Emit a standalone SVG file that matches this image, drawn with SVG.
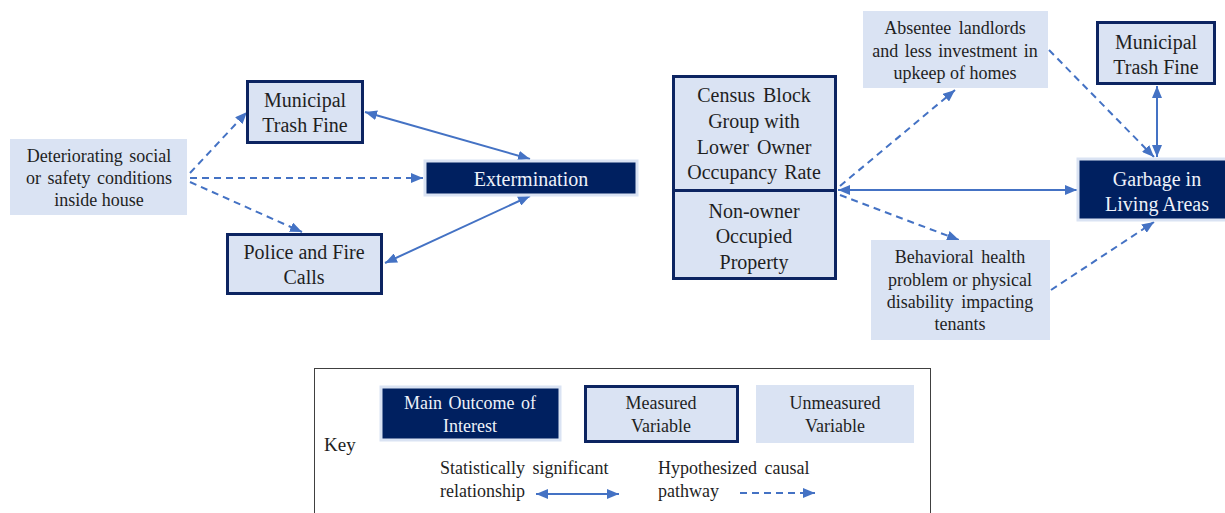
<svg xmlns="http://www.w3.org/2000/svg" width="1225" height="513" viewBox="0 0 1225 513">
<style>
.lt{fill:#dae3f3;stroke:none}
.ms{fill:#dae3f3;stroke:#0c2461;stroke-width:3}
.mo{fill:#002060;stroke:#dae3f3;stroke-width:3}
text{font-family:"Liberation Serif","Times New Roman",serif;text-anchor:middle;fill:#1f1f1f}
.s{font-size:18px}
.b{font-size:20px}
.w{fill:#eef2fa}
.l{text-anchor:start}
.sol{stroke:#4472c4;stroke-width:2;fill:none;marker-end:url(#ah);marker-start:url(#ahs)}
.das{stroke:#4472c4;stroke-width:2;fill:none;stroke-dasharray:7,5;marker-end:url(#ah)}
</style>
<defs>
<marker id="ah" viewBox="0 0 12 10" refX="12" refY="5" markerWidth="12" markerHeight="10" markerUnits="userSpaceOnUse" orient="auto"><path d="M0,0 L12,5 L0,10 z" fill="#4472c4"/></marker>
<marker id="ahs" viewBox="0 0 12 10" refX="0" refY="5" markerWidth="12" markerHeight="10" markerUnits="userSpaceOnUse" orient="auto"><path d="M12,0 L0,5 L12,10 z" fill="#4472c4"/></marker>
</defs>
<rect width="1225" height="513" fill="#ffffff"/>

<g id="connectors">
<line class="das" x1="190" y1="173" x2="247" y2="112"/>
<line class="das" x1="190" y1="178" x2="423" y2="178"/>
<line class="das" x1="190" y1="182" x2="302" y2="232"/>
<line class="sol" x1="365" y1="112" x2="530" y2="159"/>
<line class="sol" x1="385" y1="263" x2="530" y2="196"/>
<line class="sol" x1="838" y1="190" x2="1077" y2="190"/>
<line class="das" x1="840" y1="186" x2="955" y2="90"/>
<line class="das" x1="1049" y1="50" x2="1154" y2="157"/>
<line class="sol" x1="1157" y1="86" x2="1157" y2="157"/>
<line class="das" x1="840" y1="195" x2="959" y2="240"/>
<line class="das" x1="1051" y1="290" x2="1154" y2="222"/>
</g>

<g id="n-deteriorating">
<rect class="lt" x="10" y="139" width="177" height="76"/>
<text class="s" x="99" y="162" word-spacing="2">Deteriorating social</text>
<text class="s" x="99" y="184" word-spacing="2">or safety conditions</text>
<text class="s" x="99" y="206">inside house</text>
</g>

<g id="n-fine-left">
<rect class="ms" x="247.5" y="81.5" width="115" height="61"/>
<text class="b" x="305" y="107">Municipal</text>
<text class="b" x="305" y="132">Trash Fine</text>
</g>

<g id="n-police">
<rect class="ms" x="227.5" y="234.5" width="154" height="59"/>
<text class="b" x="304" y="259">Police and Fire</text>
<text class="b" x="304" y="284">Calls</text>
</g>

<g id="n-extermination">
<rect class="mo" x="425" y="161" width="212" height="34"/>
<text class="b w" x="531" y="186">Extermination</text>
</g>

<g id="n-census">
<rect class="ms" x="673.5" y="76.5" width="162" height="114"/>
<text class="b" x="754" y="102" word-spacing="3">Census Block</text>
<text class="b" x="754" y="128">Group with</text>
<text class="b" x="754" y="154" word-spacing="3">Lower Owner</text>
<text class="b" x="754" y="179" word-spacing="2">Occupancy Rate</text>
</g>

<g id="n-nonowner">
<rect class="ms" x="673.5" y="190.5" width="162" height="88"/>
<text class="b" x="754" y="218">Non-owner</text>
<text class="b" x="754" y="243">Occupied</text>
<text class="b" x="754" y="269">Property</text>
</g>

<g id="n-absentee">
<rect class="lt" x="863" y="11" width="185" height="77"/>
<text class="s" x="955" y="34" word-spacing="3">Absentee landlords</text>
<text class="s" x="955" y="57" word-spacing="2">and less investment in</text>
<text class="s" x="955" y="79">upkeep of homes</text>
</g>

<g id="n-fine-right">
<rect class="ms" x="1097.5" y="22.5" width="117" height="61"/>
<text class="b" x="1156" y="49">Municipal</text>
<text class="b" x="1156" y="74">Trash Fine</text>
</g>

<g id="n-garbage">
<rect class="mo" x="1078" y="159" width="150" height="61"/>
<text class="b w" x="1157" y="186">Garbage in</text>
<text class="b w" x="1157" y="211">Living Areas</text>
</g>

<g id="n-behavioral">
<rect class="lt" x="871" y="240" width="179" height="100"/>
<text class="s" x="960" y="263" word-spacing="3">Behavioral health</text>
<text class="s" x="960" y="286">problem or physical</text>
<text class="s" x="960" y="308" word-spacing="3">disability impacting</text>
<text class="s" x="960" y="330">tenants</text>
</g>

<g id="key">
<rect x="314.5" y="368.5" width="616" height="150" fill="#ffffff" stroke="#404040" stroke-width="1"/>
<text class="l" x="324" y="451" style="font-size:19px">Key</text>
<rect class="mo" x="381" y="387" width="179" height="53"/>
<text class="s w" x="470" y="409" word-spacing="2">Main Outcome of</text>
<text class="s w" x="470" y="432">Interest</text>
<rect class="ms" x="585.5" y="386.5" width="152" height="55"/>
<text class="s" x="661" y="409">Measured</text>
<text class="s" x="661" y="432">Variable</text>
<rect class="lt" x="756" y="385" width="158" height="58"/>
<text class="s" x="835" y="409">Unmeasured</text>
<text class="s" x="835" y="432">Variable</text>
<text class="s l" x="440" y="474" word-spacing="3">Statistically significant</text>
<text class="s l" x="440" y="497">relationship</text>
<line class="sol" x1="536" y1="494" x2="619" y2="494"/>
<text class="s l" x="658" y="474" word-spacing="3">Hypothesized causal</text>
<text class="s l" x="658" y="497">pathway</text>
<line class="das" x1="740" y1="493" x2="815" y2="493"/>
</g>
</svg>
